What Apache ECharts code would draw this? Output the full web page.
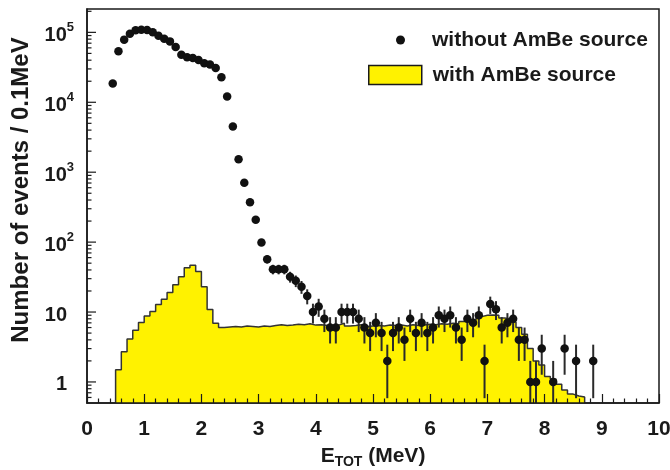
<!DOCTYPE html>
<html><head><meta charset="utf-8">
<script src="https://cdn.jsdelivr.net/npm/echarts@6/dist/echarts.min.js"></script>
<style>html,body{margin:0;padding:0;background:#fff}#c{width:670px;height:470px}</style>
</head><body><div id="c"></div>
<script>
// ---- data ----
const histStart = 0.5;      // MeV, first bin low edge
const histBinWidth = 0.1;   // MeV
const histValues = [
  1.5, 2.7, 4.1, 5.5, 7.1, 8.8, 10.2, 12.8, 15.2, 19.1,
  24.6, 32, 43, 46.5, 38, 23, 10.9, 6.9, 6.0, 6.1,
  6.2, 6.1, 6.3, 6.2, 6.1, 6.3, 6.2, 6.4, 6.6, 6.4,
  6.5, 6.7, 6.6, 6.8, 6.5, 6.6, 6.4, 6.3, 6.5, 6.9,
  6.3, 6.4, 6.6, 6.2, 6.3, 6.4, 6.3, 6.5, 6.4, 6.5,
  6.3, 6.6, 6.4, 6.5, 6.7, 6.6, 6.8, 6.7, 6.9, 6.8,
  7.3, 7.4, 7.6, 8.6, 9.0, 9.1, 9.0, 8.2, 8.0, 7.2,
  6.0, 4.8, 3.0, 2.0, 1.75, 1.2, 1.1, 0.93, 0.77, 0.67, 0.63, 0.61
];
const ptEnergy = [
  0.45, 0.55, 0.65, 0.75, 0.85, 0.95, 1.05, 1.15, 1.25, 1.35,
  1.45, 1.55, 1.65, 1.75, 1.85, 1.95, 2.05, 2.15, 2.25, 2.35,
  2.45, 2.55, 2.65, 2.75, 2.85, 2.95, 3.05, 3.15, 3.25, 3.35,
  3.45, 3.55, 3.65, 3.75, 3.85, 3.95, 4.05, 4.15, 4.25, 4.35,
  4.45, 4.55, 4.65, 4.75, 4.85, 4.95, 5.05, 5.15, 5.25, 5.35,
  5.45, 5.55, 5.65, 5.75, 5.85, 5.95, 6.05, 6.15, 6.25, 6.35,
  6.45, 6.55, 6.65, 6.75, 6.85, 6.95, 7.05, 7.15, 7.25, 7.35,
  7.45, 7.55, 7.65, 7.75, 7.85, 7.95, 8.15, 8.35, 8.55, 8.85
];
const ptCounts = [
  18500, 53500, 78700, 95800, 106800, 109000, 108000, 100000, 89700, 81300,
  74300, 61800, 48000, 43900, 43000, 40300, 36100, 34600, 31000, 22800,
  12100, 4500, 1530, 706, 373, 209, 99, 57, 41, 41,
  41, 32, 28, 23, 17, 10, 12, 8, 6, 6,
  10, 10, 10, 8, 6, 5, 7, 5, 2, 5,
  6, 4, 8, 5, 7, 5, 6, 9, 8, 9,
  6, 4, 8, 7, 9, 2, 13, 11, 6, 7,
  8, 4, 4, 1, 1, 3, 1, 3, 2, 2
];
const xTickLabels = ['0','1','2','3','4','5','6','7','8','9','10'];
const yMajorTicks = [1, 10, 100, 1000, 10000, 100000];
const seriesNames = ['without AmBe source', 'with AmBe source'];
const yTitle = 'Number of events / 0.1MeV';

// ---- build ----
const Y_MIN = 0.5, Y_MAX = 215800;
const FONT = '"Liberation Sans", Arial, Helvetica, sans-serif';
const INK = '#1a1a1a';

const histLine = [[histStart, Y_MIN]];
histValues.forEach((v, i) => histLine.push([+(histStart + i * histBinWidth).toFixed(2), v]));
const histEnd = +(histStart + histValues.length * histBinWidth).toFixed(2);
histLine.push([histEnd, histValues[histValues.length - 1]]);
histLine.push([histEnd, Y_MIN]);

const points = ptEnergy.map((e, i) => [e, ptCounts[i]]);
const errBars = ptEnergy.map((e, i) => {
  const n = ptCounts[i], s = Math.sqrt(n);
  return [e, Math.max(Y_MIN, n - s), n + s];
});

const yTicks = [];
yMajorTicks.forEach(v => yTicks.push([0, v, 1]));
[0.1, 1, 10, 100, 1000, 10000, 100000].forEach(d => {
  for (let k = 2; k <= 9; k++) {
    const v = k * d;
    if (v > Y_MIN && v < Y_MAX) yTicks.push([0, v, 0]);
  }
});

const chart = echarts.init(document.getElementById('c'), null, {renderer: 'canvas'});
chart.setOption({
  animation: false,
  backgroundColor: '#fff',
  textStyle: {fontFamily: FONT},
  grid: {left: 87, right: 11, top: 9, bottom: 67, show: true, borderColor: INK, borderWidth: 1.5,
         backgroundColor: 'transparent', containLabel: false, outerBoundsMode: 'none'},
  legend: [
    {left: 396, top: 29, padding: 0, itemWidth: 53, itemHeight: 9, selectedMode: false,
     data: [{name: seriesNames[0], icon: 'circle', itemStyle: {color: '#111', opacity: 1}}],
     textStyle: {fontFamily: FONT, fontWeight: 'bold', fontSize: 21, color: INK, lineHeight: 22}},
    {left: 368, top: 64, padding: 0, itemWidth: 53, itemHeight: 19, selectedMode: false,
     data: [{name: seriesNames[1], icon: 'rect', itemStyle: {color: '#fff200', borderColor: INK, borderWidth: 1.5}}],
     textStyle: {fontFamily: FONT, fontWeight: 'bold', fontSize: 21, color: INK, lineHeight: 22, padding: [0, 0, 0, 6]}}
  ],
  xAxis: {
    type: 'value', min: 0, max: 10, interval: 1, z: 10,
    axisLine: {show: true, lineStyle: {color: INK, width: 1.5}},
    axisTick: {show: true, inside: true, length: 9, lineStyle: {color: INK, width: 1.2}},
    minorTick: {show: true, splitNumber: 5, length: 4.5, lineStyle: {color: INK, width: 1.2}},
    splitLine: {show: false},
    axisLabel: {margin: 16, fontSize: 21, fontWeight: 'bold', color: INK, fontFamily: FONT,
      formatter: v => xTickLabels[Math.round(v)] || ''},
    name: '{e|E}{sub|TOT}{e| (MeV)}',
    nameLocation: 'middle', nameGap: 40,
    nameTextStyle: {rich: {
      e: {fontSize: 21, fontWeight: 'bold', color: INK, fontFamily: FONT, lineHeight: 26},
      sub: {fontSize: 14, fontWeight: 'bold', color: INK, fontFamily: FONT, lineHeight: 14, verticalAlign: 'bottom'}
    }}
  },
  yAxis: {
    type: 'log', logBase: 10, min: Y_MIN, max: Y_MAX, z: 10,
    axisLine: {show: true, lineStyle: {color: INK, width: 1.5}},
    axisTick: {show: false},
    splitLine: {show: false},
    axisLabel: {
      margin: 13, color: INK, fontFamily: FONT, padding: [6, 0, 0, 0],
      showMinLabel: false, showMaxLabel: false,
      formatter: function (v) {
        const l = Math.log10(v), r = Math.round(l);
        if (Math.abs(l - r) > 1e-6 || r < 0) return '';
        if (r === 0) return '{b|1}{g|}';
        if (r === 1) return '{b|10}{g|}';
        return '{b|10}{s|' + r + '}';
      },
      rich: {
        b: {fontSize: 20, fontWeight: 'bold', color: INK, fontFamily: FONT, lineHeight: 28},
        g: {width: 7, lineHeight: 28},
        s: {fontSize: 13, fontWeight: 'bold', color: INK, fontFamily: FONT, lineHeight: 15, verticalAlign: 'top'}
      }
    }
  },
  graphic: [{
    type: 'text', x: 21, y: 190, rotation: Math.PI / 2, z: 20,
    style: {text: yTitle, font: 'bold 24px ' + FONT, fill: INK, align: 'center', verticalAlign: 'middle'}
  }],
  series: [
    {
      name: seriesNames[1], type: 'line', step: 'end', data: histLine, z: 2,
      symbol: 'none', showSymbol: false,
      lineStyle: {color: '#333', width: 1.5},
      itemStyle: {color: '#fff200'},
      areaStyle: {color: '#fff200', opacity: 1, origin: 'start'}
    },
    {
      name: 'errors', type: 'custom', z: 3, data: errBars,
      encode: {x: 0, y: [1, 2]},
      renderItem: function (params, api) {
        const p1 = api.coord([api.value(0), api.value(1)]);
        const p2 = api.coord([api.value(0), api.value(2)]);
        return {type: 'line', shape: {x1: p1[0], y1: p1[1], x2: p2[0], y2: p2[1]},
          style: {stroke: '#2a2a2a', lineWidth: 2}};
      }
    },
    {
      name: seriesNames[0], type: 'scatter', data: points, z: 4,
      symbol: 'circle', symbolSize: 8.5, itemStyle: {color: '#111', opacity: 1}
    },
    {
      name: 'yticks', type: 'custom', z: 6, data: yTicks, silent: true,
      encode: {x: 0, y: 1},
      renderItem: function (params, api) {
        const p = api.coord([api.value(0), api.value(1)]);
        const len = api.value(2) ? 9 : 4.5;
        return {type: 'line', shape: {x1: p[0], y1: p[1], x2: p[0] + len, y2: p[1]},
          style: {stroke: INK, lineWidth: 1.2}};
      }
    }
  ]
});
</script>
</body></html>
